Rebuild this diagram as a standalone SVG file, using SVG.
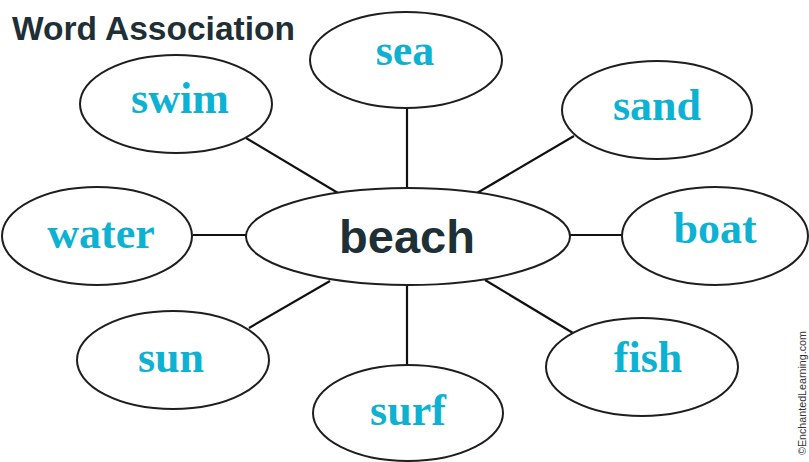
<svg xmlns="http://www.w3.org/2000/svg" width="809" height="462" viewBox="0 0 809 462">
  <style>
    .bubble { fill: #ffffff; stroke: #1e1e1e; stroke-width: 2; }
    .word { font-family: "Liberation Serif", "Times New Roman", serif; font-weight: bold; font-size: 44px; fill: #0db2d3; text-anchor: middle; }
    .hub { font-family: "Liberation Sans", Arial, sans-serif; font-weight: bold; font-size: 47px; fill: #1f2f36; text-anchor: middle; }
    .title { font-family: "Liberation Sans", Arial, sans-serif; font-weight: bold; font-size: 33.5px; fill: #1f2f36; }
    .credit { font-family: "Liberation Sans", Arial, sans-serif; font-size: 10px; fill: #333333; }
    .link { stroke: #111111; stroke-width: 2.2; fill: none; }
  </style>
  <rect width="809" height="462" fill="#ffffff"/>

  <text class="title" x="12" y="40">Word Association</text>

  <!-- spokes from the hub to each word -->
  <g id="connectors">
    <line class="link" x1="407" y1="108" x2="407" y2="189"/>
    <line class="link" x1="246" y1="138" x2="338" y2="193"/>
    <line class="link" x1="574" y1="136" x2="477" y2="193"/>
    <line class="link" x1="193" y1="235" x2="247" y2="235"/>
    <line class="link" x1="569" y1="235" x2="623" y2="235"/>
    <line class="link" x1="249" y1="328" x2="330" y2="281"/>
    <line class="link" x1="407" y1="285" x2="407" y2="366"/>
    <line class="link" x1="485" y1="280" x2="573" y2="333"/>
  </g>

  <g id="node-beach">
    <ellipse class="bubble" cx="408" cy="236.5" rx="162" ry="48.5"/>
    <text class="hub" x="407" y="253">beach</text>
  </g>
  <g id="node-sea">
    <ellipse class="bubble" cx="406" cy="60" rx="96" ry="48"/>
    <text class="word" x="405" y="65">sea</text>
  </g>
  <g id="node-swim">
    <ellipse class="bubble" cx="176" cy="104" rx="96" ry="49"/>
    <text class="word" x="180" y="113">swim</text>
  </g>
  <g id="node-sand">
    <ellipse class="bubble" cx="657" cy="110" rx="95" ry="49"/>
    <text class="word" x="657" y="120">sand</text>
  </g>
  <g id="node-water">
    <ellipse class="bubble" cx="97" cy="236" rx="95" ry="49"/>
    <text class="word" x="101" y="248">water</text>
  </g>
  <g id="node-boat">
    <ellipse class="bubble" cx="715" cy="236" rx="93" ry="49"/>
    <text class="word" x="715" y="243">boat</text>
  </g>
  <g id="node-sun">
    <ellipse class="bubble" cx="173" cy="360" rx="96" ry="49"/>
    <text class="word" x="171" y="372">sun</text>
  </g>
  <g id="node-surf">
    <ellipse class="bubble" cx="408" cy="413" rx="95" ry="48"/>
    <text class="word" x="408" y="425">surf</text>
  </g>
  <g id="node-fish">
    <ellipse class="bubble" cx="642" cy="367" rx="96" ry="49"/>
    <text class="word" x="648" y="372">fish</text>
  </g>

  <text class="credit" transform="translate(806 455) rotate(-90)" textLength="124" lengthAdjust="spacingAndGlyphs">©EnchantedLearning.com</text>
</svg>
